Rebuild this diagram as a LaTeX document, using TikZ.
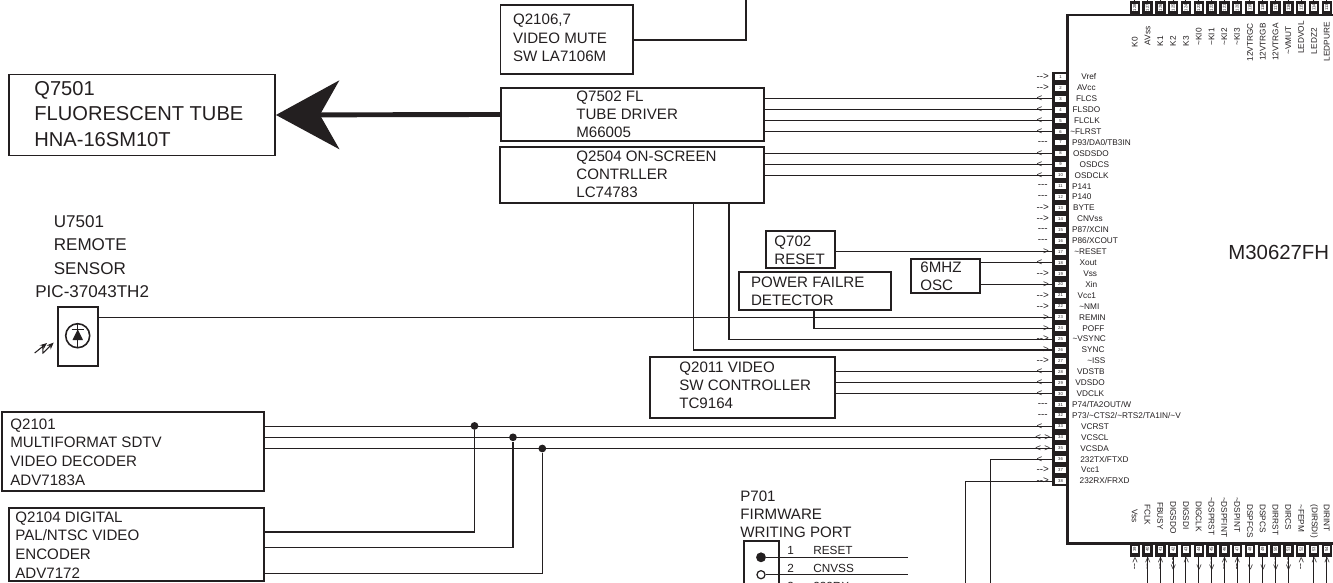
\documentclass[tikz,border=0pt]{standalone}
\usepackage{fontspec}
\setmainfont{Liberation Sans}
\usepackage{xcolor}
\usetikzlibrary{arrows.meta}
\definecolor{inkblack}{HTML}{231F20}
\newcommand{\mrkin}{-{}->}
\newcommand{\mrkout}{<-{}-}
\newcommand{\mrkno}{-{}-{}-}
\newcommand{\mrkbi}{<->}
\newcommand{\til}{\textasciitilde}
\tikzset{
    icbox/.style 2 args={draw=inkblack, line width=1.1pt, inner sep=0pt, anchor=north west,
        minimum width=#1*0.02cm, minimum height=#2*0.02cm},
    blocktext/.style={text=inkblack, anchor=west, align=left, inner sep=0pt,
        font=\fontsize{8.6}{10.4}\selectfont},
    bigtext/.style={text=inkblack, anchor=west, align=left, inner sep=0pt,
        font=\fontsize{11.45}{14.5}\selectfont},
    sensortext/.style={text=inkblack, anchor=west, align=left, inner sep=0pt,
        font=\fontsize{9.7}{13.5}\selectfont},
    wire/.style={draw=inkblack, line width=0.6pt},
    pinlabel/.style={text=inkblack, inner sep=0pt, font=\fontsize{4.7}{5}\selectfont},
    pinmark/.style={text=inkblack, inner sep=0pt, font=\fontsize{5.6}{6}\selectfont},
    pinnum/.style={fill=white, text=inkblack, inner sep=0pt, font=\fontsize{2.4}{3}\selectfont},
    jdot/.style={circle, fill=inkblack, inner sep=0pt, minimum size=4.4pt},
    portpin/.style={text=inkblack, inner sep=0pt, anchor=west, font=\fontsize{6.7}{8}\selectfont},
}
\begin{document}
\begin{tikzpicture}[x=0.02cm, y=-0.02cm]
    \clip (0,0) rectangle (1333,582);
    % Chip outline
    \fill[inkblack] (1052.3,72) rectangle (1069,485.7);
    \draw[inkblack, line width=1.7pt] (1340,15) -- (1067.7,15) -- (1067.7,543) -- (1340,543);
    \node[pinlabel, anchor=west, font=\fontsize{11.6}{14}\selectfont] (chipname) at (1228,252) {M30627FH};

    % Left pins
    \foreach \n/\lx/\mrk/\lbl in {
        1/1081/\mrkin/Vref, 2/1076.7/\mrkin/AVcc, 3/1075.7/\mrkout/FLCS, 4/1072.3/\mrkout/FLSDO,
        5/1073.7/\mrkout/FLCLK, 6/1070/\mrkout/\til FLRST, 7/1071.7/\mrkno/{P93/DA0/TB3IN},
        8/1072.7/\mrkout/OSDSDO, 9/1079.3/\mrkout/OSDCS, 10/1074.3/\mrkout/OSDCLK,
        11/1071.7/\mrkno/P141, 12/1071.7/\mrkno/P140, 13/1072.7/\mrkin/BYTE, 14/1076.7/\mrkin/CNVss,
        15/1071.7/\mrkno/{P87/XCIN}, 16/1071.7/\mrkno/{P86/XCOUT}, 17/1074/\mrkin/\til RESET,
        18/1079.3/\mrkout/Xout, 19/1083/\mrkin/Vss, 20/1085/\mrkin/Xin, 21/1077.3/\mrkin/Vcc1,
        22/1079/\mrkin/\til NMI, 23/1078.7/\mrkin/REMIN, 24/1082/\mrkin/POFF, 25/1072.3/\mrkin/\til VSYNC,
        26/1081.3/\mrkin/SYNC, 27/1087/\mrkin/\til ISS, 28/1076.7/\mrkout/VDSTB, 29/1075/\mrkout/VDSDO,
        30/1076.3/\mrkout/VDCLK, 31/1071.7/\mrkno/{P74/TA2OUT/W},
        32/1071.7/\mrkno/{P73/\til CTS2/\til RTS2/TA1IN/\til V}, 33/1080.7/\mrkout/VCRST,
        34/1080.7/\mrkbi/VCSCL, 35/1080/\mrkbi/VCSDA, 36/1080/\mrkout/{232TX/FTXD},
        37/1080.7/\mrkin/Vcc1, 38/1079.3/\mrkin/{232RX/FRXD}} {
        \pgfmathsetmacro{\py}{77+(\n-1)*10.92}
        \coordinate (L\n) at (1052.3,\py);
        \node[pinnum, minimum width=11*0.02cm, minimum height=5.6*0.02cm] (p\n) at (1060.5,\py) {\n};
        \node[pinmark] (m\n) at (1042.7,\py) {\mrk};
        \node[pinlabel, anchor=west] (n\n) at (\lx,\py) {\lbl};
    }

    % Top pins
    \foreach \n/\ty/\lbl in {
        128/36.7/K0, 127/26/AVss, 126/36/K1, 125/36/K2, 124/36/K3, 123/28/\til KI0, 122/28/\til KI1,
        121/28/\til KI2, 120/28/\til KI3, 119/23/12VTRGC, 118/23/12VTRGB, 117/23/12VTRGA,
        116/26/\til VMUT, 115/21/LEDVOL, 114/28/LEDZ2, 113/22/LEDPURE} {
        \pgfmathsetmacro{\px}{1134.7+(128-\n)*12.8}
        \fill[inkblack] (\px-5.2,1) rectangle (\px+5.2,14);
        \draw[inkblack, line width=0.5pt] (\px,-1) -- (\px,1);
        \node[pinnum, rotate=90, minimum width=7.4*0.02cm, minimum height=5.6*0.02cm] (p\n) at (\px,7.5) {\n};
        \node[pinlabel, rotate=90, anchor=east] (n\n) at (\px,\ty) {\lbl};
    }

    % Bottom pins
    \foreach \n/\ty/\mrk/\lbl in {
        39/509/\mrkout/Vss, 40/504/\mrkout/FCLK, 41/501.7/\mrkout/FBUSY, 42/500.7/\mrkin/DIGSDO,
        43/500.7/\mrkout/DIGSDI, 44/500.7/\mrkin/DIGCLK, 45/496.7/\mrkin/\til DSPRST,
        46/496.7/\mrkout/\til DSPFINT, 47/496.7/\mrkout/\til DSPINT, 48/504/\mrkin/DSPFCS,
        49/504/\mrkin/DSPCS, 50/504/\mrkin/DIRRST, 51/504/\mrkin/DIRCS, 52/504/\mrkout/\til FEPM,
        53/504/\mrkout/(DIRSDI), 54/504/\mrkout/DIRINT} {
        \pgfmathsetmacro{\px}{1134.7+(\n-39)*12.8}
        \fill[inkblack] (\px-5.2,543) rectangle (\px+5.2,557);
        \coordinate (B\n) at (\px,557);
        \node[pinnum, rotate=90, minimum width=7.4*0.02cm, minimum height=5.6*0.02cm] (p\n) at (\px,549.5) {\n};
        \node[pinmark, rotate=-90] (m\n) at (\px,564) {\mrk};
        \node[pinlabel, rotate=-90, anchor=west] (n\n) at (\px,\ty) {\lbl};
    }
    \foreach \n in {40,...,51,53,54} {
        \draw[wire] (B\n) -- (B\n |- 0,585);
    }

    % Blocks
    \node[icbox={132.4}{69}] (qmute) at (499.5,3.7) {};
    \node[blocktext] at (512.7,38) {Q2106,7\\VIDEO MUTE\\SW LA7106M};
    \node[icbox={266}{81}] (qtube) at (8,73.5) {};
    \node[bigtext] at (34,114) {Q7501\\FLUORESCENT TUBE\\HNA-16SM10T};
    \node[icbox={263.3}{53.6}] (qfl) at (500,86.7) {};
    \node[blocktext] at (576,114.5) {Q7502 FL\\TUBE DRIVER\\M66005};
    \node[icbox={264}{56.3}] (qosd) at (499,145.7) {};
    \node[blocktext] at (576,174.5) {Q2504 ON-SCREEN\\CONTRLLER\\LC74783};
    \node[icbox={69}{37}] (qreset) at (765,230) {};
    \node[blocktext] at (774,250) {Q702\\RESET};
    \node[icbox={152.3}{38.6}] (qpower) at (737.7,270.7) {};
    \node[blocktext] at (750.7,291) {POWER FAILRE\\DETECTOR};
    \node[icbox={68.7}{34}] (qosc) at (910,257.7) {};
    \node[blocktext] at (920,276) {6MHZ\\OSC};
    \node[icbox={185}{60.7}] (qsw) at (649.3,356) {};
    \node[blocktext] at (679,385.5) {Q2011 VIDEO\\SW CONTROLLER\\TC9164};
    \node[icbox={262}{79.3}] (qdec) at (0.7,410.7) {};
    \node[blocktext, font=\fontsize{8.6}{10.6}\selectfont] at (10,452) {Q2101\\MULTIFORMAT SDTV\\VIDEO DECODER\\ADV7183A};
    \node[icbox={254.7}{73.5}] (qenc) at (8,506.7) {};
    \node[blocktext, font=\fontsize{8.6}{10.6}\selectfont] at (15,545) {Q2104 DIGITAL\\PAL/NTSC VIDEO\\ENCODER\\ADV7172};

    % Remote sensor
    \node[sensortext] at (53.5,245) {U7501\\REMOTE\\SENSOR};
    \node[sensortext] at (35,292) {PIC-37043TH2};
    \node[icbox={40}{59.3}] (usensor) at (56.7,305.7) {};
    \draw[inkblack, line width=0.9pt] (77.7,335.7) circle (12);
    \draw[inkblack, line width=0.5pt] (77.7,323.5) -- (77.7,348);
    \draw[inkblack, line width=0.8pt] (71.7,329.3) -- (84,329.3);
    \fill[inkblack] (77.7,329.3) -- (83,340) -- (72.5,340) -- cycle;
    \draw[-{Stealth[length=4pt,width=3.2pt]}, inkblack, line width=0.6pt] (34.7,353) -- (42.7,346.5) -- (43,353) -- (53.7,342.5);
    \draw[-{Stealth[length=4pt,width=3.2pt]}, inkblack, line width=0.6pt] (42.7,346.5) -- (47,343);

    % Firmware port
    \node[blocktext, font=\fontsize{8.6}{10.1}\selectfont] at (740,514.5) {P701\\FIRMWARE\\WRITING PORT};
    \node[icbox={34.7}{60}] (qport) at (743.3,540) {};
    \node[jdot, minimum size=5.6pt] (prst) at (761,557.3) {};
    \node[circle, draw=inkblack, line width=0.7pt, fill=white, inner sep=0pt, minimum size=4.6pt] (pcnv) at (761,574.7) {};
    \node[portpin] at (787,550.5) {1};
    \node[portpin] at (787,568) {2};
    \node[portpin] at (787,586) {3};
    \node[portpin] at (813,550.5) {RESET};
    \node[portpin] at (813,568) {CNVSS};
    \node[portpin] at (813,586) {232RX};
    \coordinate (prstend) at (908.3,557.3);
    \coordinate (pcnvend) at (908.3,574.7);
    \draw[wire] (prst) -- (prstend);
    \draw[wire] (pcnv) -- (pcnvend);

    % Main arrow
    \draw[-{Stealth[length=36pt,width=39pt,inset=11pt]}, inkblack, line width=2.8pt] (qfl.west) -- (qtube.east);

    % Wires to the chip
    \coordinate (muteend) at (746,-2);
    \draw[wire] (qmute.east |- 0,40) -| (muteend);
    \foreach \n in {3,...,6} {
        \draw[wire] (qfl.east |- L\n) -- (L\n);
    }
    \foreach \n in {8,9,10} {
        \draw[wire] (qosd.east |- L\n) -- (L\n);
    }
    \draw[wire] (qosd.south -| 729,0) |- (L25);
    \draw[wire] (qosd.south -| 693.3,0) |- (L26);
    \draw[wire] (qreset.east |- L17) -- (L17);
    \draw[wire] (qosc.east |- L18) -- (L18);
    \draw[wire] (qosc.east |- L20) -- (L20);
    \draw[wire] (usensor.east |- L23) -- (L23);
    \draw[wire] (qpower.south -| 814,0) |- (L24);
    \foreach \n in {28,29,30} {
        \draw[wire] (qsw.east |- L\n) -- (L\n);
    }
    \foreach \n in {33,34,35} {
        \draw[wire] (qdec.east |- L\n) -- (L\n);
    }
    \coordinate (rxend) at (965.7,585);
    \coordinate (txend) at (990.7,585);
    \draw[wire] (txend) |- (L36);
    \draw[wire] (rxend) |- (L38);

    % Bus junctions
    \node[jdot] (ja) at (474.5,425.9) {};
    \node[jdot] (jb) at (513,437.3) {};
    \node[jdot] (jc) at (542.3,448.5) {};
    \draw[wire] (qenc.east |- 0,532) -| (ja);
    \draw[wire] (qenc.east |- 0,547.7) -| (jb);
    \draw[wire] (qenc.east |- 0,573.3) -| (jc);
\end{tikzpicture}
\end{document}
